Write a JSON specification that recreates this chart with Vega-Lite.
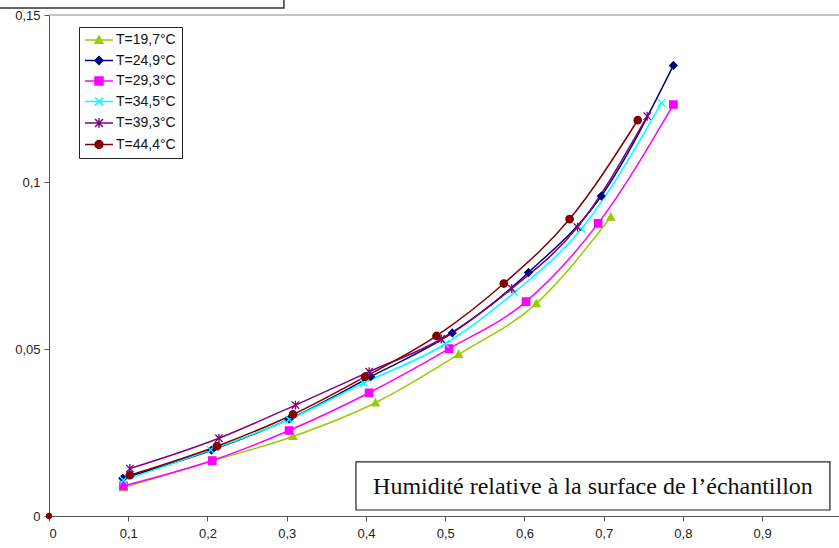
{
  "$schema": "https://vega.github.io/schema/vega-lite/v6.json",
  "width": 790,
  "height": 501,
  "autosize": {"type": "none"},
  "padding": {"left": 49, "top": 15, "right": 0, "bottom": 32},
  "background": "white",
  "config": {
    "view": {"stroke": null},
    "font": "Liberation Sans",
    "axis": {
      "grid": false,
      "title": null,
      "domainColor": "#555555",
      "tickColor": "#555555",
      "tickSize": 5,
      "labelColor": "#222222",
      "labelFontSize": 13,
      "labelFont": "Liberation Sans"
    }
  },
  "datasets": {
    "series": [
      {"T": "T=19,7°C", "rh": 0.094, "w": 0.0085},
      {"T": "T=19,7°C", "rh": 0.206, "w": 0.0165},
      {"T": "T=19,7°C", "rh": 0.308, "w": 0.0238},
      {"T": "T=19,7°C", "rh": 0.412, "w": 0.0339},
      {"T": "T=19,7°C", "rh": 0.517, "w": 0.0484},
      {"T": "T=19,7°C", "rh": 0.615, "w": 0.0636},
      {"T": "T=19,7°C", "rh": 0.709, "w": 0.0895},
      {"T": "T=24,9°C", "rh": 0.093, "w": 0.0113},
      {"T": "T=24,9°C", "rh": 0.205, "w": 0.0197},
      {"T": "T=24,9°C", "rh": 0.303, "w": 0.029},
      {"T": "T=24,9°C", "rh": 0.406, "w": 0.0417},
      {"T": "T=24,9°C", "rh": 0.509, "w": 0.0548},
      {"T": "T=24,9°C", "rh": 0.605, "w": 0.0729},
      {"T": "T=24,9°C", "rh": 0.697, "w": 0.0958},
      {"T": "T=24,9°C", "rh": 0.788, "w": 0.1349},
      {"T": "T=29,3°C", "rh": 0.094, "w": 0.009},
      {"T": "T=29,3°C", "rh": 0.206, "w": 0.0166},
      {"T": "T=29,3°C", "rh": 0.303, "w": 0.0256},
      {"T": "T=29,3°C", "rh": 0.404, "w": 0.0369},
      {"T": "T=29,3°C", "rh": 0.505, "w": 0.0501},
      {"T": "T=29,3°C", "rh": 0.602, "w": 0.0642},
      {"T": "T=29,3°C", "rh": 0.693, "w": 0.0876},
      {"T": "T=29,3°C", "rh": 0.788, "w": 0.1232},
      {"T": "T=34,5°C", "rh": 0.094, "w": 0.0107},
      {"T": "T=34,5°C", "rh": 0.204, "w": 0.0198},
      {"T": "T=34,5°C", "rh": 0.303, "w": 0.0289},
      {"T": "T=34,5°C", "rh": 0.397, "w": 0.0398},
      {"T": "T=34,5°C", "rh": 0.5, "w": 0.0515},
      {"T": "T=34,5°C", "rh": 0.587, "w": 0.0669},
      {"T": "T=34,5°C", "rh": 0.672, "w": 0.086},
      {"T": "T=34,5°C", "rh": 0.773, "w": 0.1237},
      {"T": "T=39,3°C", "rh": 0.102, "w": 0.0142},
      {"T": "T=39,3°C", "rh": 0.2145, "w": 0.0233},
      {"T": "T=39,3°C", "rh": 0.311, "w": 0.0332},
      {"T": "T=39,3°C", "rh": 0.404, "w": 0.0432},
      {"T": "T=39,3°C", "rh": 0.495, "w": 0.053},
      {"T": "T=39,3°C", "rh": 0.584, "w": 0.0681},
      {"T": "T=39,3°C", "rh": 0.667, "w": 0.0865},
      {"T": "T=39,3°C", "rh": 0.755, "w": 0.1197},
      {"T": "T=44,4°C", "rh": 0.102, "w": 0.0122},
      {"T": "T=44,4°C", "rh": 0.212, "w": 0.0209},
      {"T": "T=44,4°C", "rh": 0.308, "w": 0.0304},
      {"T": "T=44,4°C", "rh": 0.399, "w": 0.0417},
      {"T": "T=44,4°C", "rh": 0.489, "w": 0.0539},
      {"T": "T=44,4°C", "rh": 0.574, "w": 0.0696},
      {"T": "T=44,4°C", "rh": 0.657, "w": 0.0889},
      {"T": "T=44,4°C", "rh": 0.743, "w": 0.1185}
    ],
    "origin": [
      {"T": "T=44,4°C", "rh": 0, "w": 0}
    ],
    "note": [
      {"text": "Humidité relative à la surface de l’échantillon"}
    ]
  },
  "layer": [
    {
      "data": {"name": "note"},
      "mark": {"type": "rule", "color": "#8a8a8a", "strokeWidth": 1},
      "encoding": {"y": {"datum": 0.15, "type": "quantitative"}}
    },
    {
      "data": {"name": "note"},
      "mark": {"type": "rect", "fill": null, "stroke": "#333333", "strokeWidth": 1.5, "clip": false},
      "encoding": {
        "x": {"datum": -0.08, "type": "quantitative"},
        "x2": {"datum": 0.2965},
        "y": {"datum": 0.16, "type": "quantitative"},
        "y2": {"datum": 0.1521}
      }
    },
    {
      "data": {"name": "series"},
      "mark": {"type": "line", "strokeWidth": 1.5, "interpolate": "monotone"},
      "encoding": {
        "x": {
          "field": "rh", "type": "quantitative",
          "scale": {"domain": [0, 0.997], "nice": false, "zero": false},
          "axis": {"values": [0, 0.1, 0.2, 0.3, 0.4, 0.5, 0.6, 0.7, 0.8, 0.9], "format": "~g", "labelExpr": "replace(datum.label, '.', ',')", "labelPadding": 6}
        },
        "y": {
          "field": "w", "type": "quantitative",
          "scale": {"domain": [0, 0.15], "nice": false},
          "axis": {"values": [0, 0.05, 0.1, 0.15], "format": "~g", "labelExpr": "replace(datum.label, '.', ',')", "labelPadding": 4}
        },
        "color": {
          "field": "T", "type": "nominal",
          "scale": {
            "domain": ["T=19,7°C", "T=24,9°C", "T=29,3°C", "T=34,5°C", "T=39,3°C", "T=44,4°C"],
            "range": ["#99cc00", "#000080", "#ff00ff", "#00ffff", "#800080", "#800000"]
          },
          "legend": {
            "title": null,
            "orient": "none",
            "legendX": 30,
            "legendY": 12,
            "padding": 6,
            "fillColor": "white",
            "strokeColor": "#222222",
            "labelFontSize": 14,
            "labelColor": "#111111",
            "labelFont": "Liberation Sans",
            "symbolSize": 64,
            "symbolStrokeWidth": 1.5,
            "symbolOffset": 7,
            "labelOffset": 10,
            "rowPadding": 6.5,
            "encoding": {
              "symbols": {
                "shape": {
                  "condition": [
                    {"test": "datum.value === 'T=19,7°C'", "value": "M-3.5,0H3.5M0,-1L1,0.8L-1,0.8Z"},
                    {"test": "datum.value === 'T=24,9°C'", "value": "M-3.5,0H3.5M0,-1L1,0L0,1L-1,0Z"},
                    {"test": "datum.value === 'T=29,3°C'", "value": "M-3.5,0H3.5M-1,-1H1V1H-1Z"},
                    {"test": "datum.value === 'T=34,5°C'", "value": "M-3.5,0H3.5M-1,-1L1,1M-1,1L1,-1"},
                    {"test": "datum.value === 'T=39,3°C'", "value": "M-3.5,0H3.5M-1,-1L1,1M-1,1L1,-1M0,-1.2V1.2"}
                  ],
                  "value": "M-3.5,0H3.5M1,0A1,1,0,1,1,-1,0A1,1,0,1,1,1,0Z"
                }
              }
            }
          }
        }
      }
    },
    {
      "data": {"name": "series"},
      "mark": {"type": "point", "filled": true, "size": 55, "strokeWidth": 1.3, "opacity": 1},
      "encoding": {
        "x": {"field": "rh", "type": "quantitative"},
        "y": {"field": "w", "type": "quantitative"},
        "color": {"field": "T", "type": "nominal"},
        "stroke": {
          "field": "T", "type": "nominal",
          "scale": {
            "domain": ["T=19,7°C", "T=24,9°C", "T=29,3°C", "T=34,5°C", "T=39,3°C", "T=44,4°C"],
            "range": ["#99cc00", "#000080", "#ff00ff", "#00ffff", "#800080", "#800000"]
          }
        },
        "shape": {
          "field": "T", "type": "nominal",
          "legend": null,
          "scale": {
            "domain": ["T=44,4°C", "T=39,3°C", "T=34,5°C", "T=29,3°C", "T=24,9°C", "T=19,7°C"],
            "range": ["circle", "M-1,-1L1,1M-1,1L1,-1M0,-1.2V1.2", "M-1,-1L1,1M-1,1L1,-1", "M-1,-1H1V1H-1Z", "M0,-1L1,0L0,1L-1,0Z", "M0,-1L1,0.8L-1,0.8Z"]
          }
        }
      }
    },
    {
      "data": {"name": "origin"},
      "mark": {"type": "point", "filled": true, "size": 40, "color": "#800000", "opacity": 1},
      "encoding": {
        "x": {"field": "rh", "type": "quantitative"},
        "y": {"field": "w", "type": "quantitative"}
      }
    },
    {
      "data": {"name": "note"},
      "mark": {"type": "rect", "fill": "white", "stroke": "#222222", "strokeWidth": 1.2},
      "encoding": {
        "x": {"datum": 0.3874, "type": "quantitative"},
        "x2": {"datum": 0.9855},
        "y": {"datum": 0.0162, "type": "quantitative"},
        "y2": {"datum": 0.0018}
      }
    },
    {
      "data": {"name": "note"},
      "mark": {"type": "text", "font": "Liberation Serif", "fontSize": 24, "color": "#111111", "align": "center", "baseline": "middle"},
      "encoding": {
        "x": {"datum": 0.6865, "type": "quantitative"},
        "y": {"datum": 0.0088, "type": "quantitative"},
        "text": {"field": "text"}
      }
    }
  ]
}
